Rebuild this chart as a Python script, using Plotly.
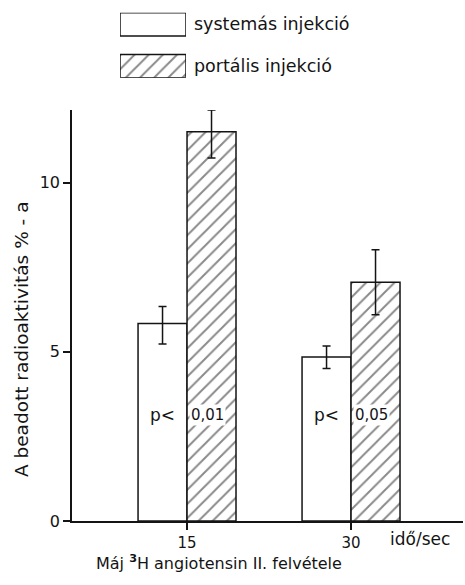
import plotly.graph_objects as go

# ---- data ----
times = [15, 30]
tick_labels = ["15", "30"]
series_names = ["systemás injekció", "portális injekció"]
systemic = [5.84, 4.85]
systemic_err_plus = [0.50, 0.32]
systemic_err_minus = [0.61, 0.34]
portal = [11.51, 7.06]
portal_err_plus = [0.64, 0.96]
portal_err_minus = [0.78, 0.96]
p_values = ["0,01", "0,05"]
p_label_y = 3.14
y_ticks = [0, 5, 10]

W, H = 465, 585
INK = "#141414"
FONT = "DejaVu Sans"

# pixel geometry -> paper domains
px_left, px_right = 72, 463
px_top, px_bottom = 112, 530
x_range = [4.48, 40.24]
y_range = [0, 12.15]
bar_w = 4.48  # data units

HATCH = dict(fgcolor=INK, bgcolor="white", size=10, solidity=0.2)

fig = go.Figure()

fig.add_trace(go.Bar(
    x=times, y=systemic, name=series_names[0],
    marker=dict(color="white", line=dict(color=INK, width=1.5)),
    error_y=dict(type="data", symmetric=False, array=systemic_err_plus,
                 arrayminus=systemic_err_minus, color=INK, thickness=1.5, width=4),
    showlegend=False,
))
fig.add_trace(go.Bar(
    x=times, y=portal, name=series_names[1],
    marker=dict(color="white", line=dict(color=INK, width=1.5),
                pattern=dict(shape="/", **HATCH)),
    error_y=dict(type="data", symmetric=False, array=portal_err_plus,
                 arrayminus=portal_err_minus, color=INK, thickness=1.5, width=4),
    showlegend=False,
))

# legend swatches as a small horizontal bar subplot
fig.add_trace(go.Bar(
    y=series_names, x=[1, 1], orientation="h", xaxis="x2", yaxis="y2",
    width=0.553,
    marker=dict(color="white", line=dict(color=INK, width=1.5),
                pattern=dict(shape=["", "/"], **HATCH)),
    showlegend=False, hoverinfo="skip",
))

group_gap = 1 - 2 * bar_w / (times[1] - times[0])

fig.update_layout(
    width=W, height=H, autosize=False,
    margin=dict(l=0, r=0, t=0, b=0),
    paper_bgcolor="white", plot_bgcolor="white",
    barmode="group", bargap=group_gap, bargroupgap=0,
    font=dict(family=FONT, color=INK, size=15),
    xaxis=dict(
        domain=[px_left / W, px_right / W], range=x_range,
        tickvals=times, ticktext=tick_labels,
        ticks="outside", ticklen=7, tickwidth=1.5, tickcolor=INK,
        showline=True, linecolor=INK, linewidth=1.5,
        showgrid=False, zeroline=False, anchor="y",
        tickfont=dict(size=15),
    ),
    yaxis=dict(
        domain=[(H - px_bottom) / H, (H - px_top) / H], range=y_range,
        tickvals=y_ticks, ticksuffix="\u2002",
        ticks="outside", ticklen=7, tickwidth=1.5, tickcolor=INK,
        showline=True, linecolor=INK, linewidth=1.5,
        showgrid=False, zeroline=False, anchor="x",
        tickfont=dict(size=16),
    ),
    xaxis2=dict(
        domain=[120 / W, 186 / W], range=[0, 1], visible=False, anchor="y2",
        fixedrange=True,
    ),
    yaxis2=dict(
        domain=[(H - 79) / H, (H - 13) / H], range=[1.2765, -0.2765],
        anchor="x2", side="right", showline=False, showgrid=False, zeroline=False,
        ticks="", tickfont=dict(size=17.5), ticklabelstandoff=7, fixedrange=True,
    ),
)

annotations = []
for t, pv in zip(times, p_values):
    annotations.append(dict(x=t - bar_w / 2, y=p_label_y, xref="x", yref="y",
                            xanchor="center", yanchor="middle",
                            text="p<", showarrow=False, font=dict(size=17)))
    annotations.append(dict(x=t, y=p_label_y, xref="x", yref="y", xanchor="left",
                            yanchor="middle", xshift=2, text=pv, showarrow=False,
                            bgcolor="white", borderpad=1, font=dict(size=15)))

annotations += [
    dict(x=420 / W, y=(H - 548) / H, xref="paper", yref="paper",
         xanchor="center", yanchor="middle",
         text="idő/sec", showarrow=False, font=dict(size=17)),
    dict(x=219 / W, y=(H - 572) / H, xref="paper", yref="paper",
         xanchor="center", yanchor="middle",
         text="Máj <sup><b>3</b></sup>H angiotensin II. felvétele",
         showarrow=False, font=dict(size=16)),
    dict(x=21 / W, y=(H - 345) / H, xref="paper", yref="paper", textangle=-90,
         xanchor="center", yanchor="middle",
         text="A beadott radioaktivitás % - a", showarrow=False, font=dict(size=18.5)),
]
fig.update_layout(annotations=annotations)

fig.write_html("out.html", config={"displayModeBar": False},
               post_script="document.body.style.margin='0';")
